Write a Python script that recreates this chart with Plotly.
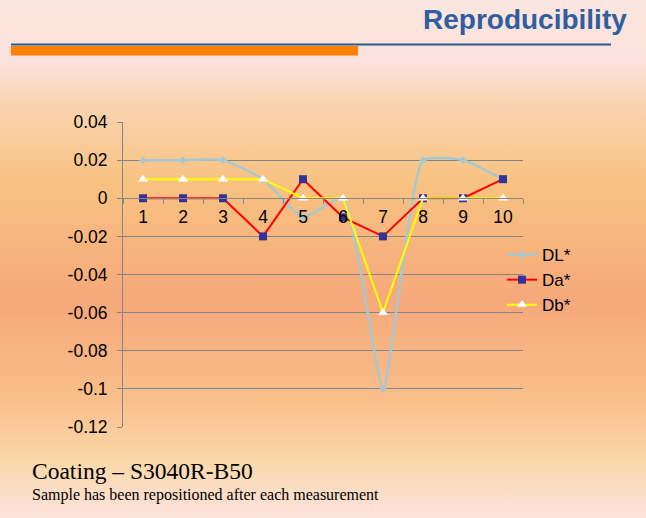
import base64
import plotly.graph_objects as go

# ---- data ----
samples = ["1", "2", "3", "4", "5", "6", "7", "8", "9", "10"]
dl_values = [0.02, 0.02, 0.02, 0.01, -0.01, 0.0, -0.10, 0.02, 0.02, 0.01]
da_values = [0.0, 0.0, 0.0, -0.02, 0.01, -0.01, -0.02, 0.0, 0.0, 0.01]
db_values = [0.01, 0.01, 0.01, 0.01, 0.0, 0.0, -0.06, 0.0, 0.0, 0.0]
y_tick_values = [0.04, 0.02, 0.0, -0.02, -0.04, -0.06, -0.08, -0.10, -0.12]
y_tick_labels = ["0.04", "0.02", "0", "-0.02", "-0.04", "-0.06", "-0.08", "-0.1", "-0.12"]
series_names = ["DL*", "Da*", "Db*"]

W, H = 646, 518
L, R, T, B = 123, 123, 122, 91
PW, PH = W - L - R, H - T - B


def px(x):
    return (x - L) / PW


def py(y):
    return (H - B - y) / PH


ymin, ymax = min(y_tick_values), max(y_tick_values)

# background gradient
stops = [(0.0, "#FDE6DF"), (0.12, "#FCE2DC"), (0.2, "#FAD4B2"), (0.35, "#F8C382"),
         (0.58, "#F6A87A"), (0.77, "#F9BF8A"), (0.9, "#FBD9AE"), (1.0, "#FCE2DD")]
stop_xml = "".join(f'<stop offset="{o}" stop-color="{c}"/>' for o, c in stops)
svg = (f'<svg xmlns="http://www.w3.org/2000/svg" width="{W}" height="{H}" viewBox="0 0 {W} {H}" '
       f'preserveAspectRatio="none"><defs><linearGradient id="g" x1="0" y1="0" x2="0" y2="1">'
       f'{stop_xml}</linearGradient></defs><rect width="{W}" height="{H}" fill="url(#g)"/></svg>')
bg_src = "data:image/svg+xml;base64," + base64.b64encode(svg.encode()).decode()

fig = go.Figure()
fig.add_trace(go.Scatter(
    x=samples, y=dl_values, name=series_names[0], mode="lines+markers",
    line=dict(color="#A6C8D0", width=2.5, shape="spline", smoothing=0.45),
    marker=dict(symbol="diamond", size=6, color="#A6C8D0"), legendgroup="a"))
fig.add_trace(go.Scatter(
    x=samples, y=da_values, name=series_names[1], mode="lines+markers",
    line=dict(color="#FF0000", width=2),
    marker=dict(symbol="square", size=8, color="#333399"), legendgroup="b"))
fig.add_trace(go.Scatter(
    x=samples, y=db_values, name=series_names[2], mode="lines+markers",
    line=dict(color="#FFFF00", width=2),
    marker=dict(symbol="triangle-up", size=9, color="#FFFFFF"), legendgroup="c"))

grid = "#858585"
fig.update_layout(
    width=W, height=H,
    margin=dict(l=L, r=R, t=T, b=B, autoexpand=False),
    paper_bgcolor="#FCE2DC", plot_bgcolor="rgba(0,0,0,0)",
    font=dict(family="Liberation Sans, Arial", size=17, color="#000000"),
    showlegend=True,
    legend=dict(x=px(502), y=py(237), xanchor="left", yanchor="top",
                bgcolor="rgba(0,0,0,0)", traceorder="grouped", tracegroupgap=0,
                font=dict(size=17)),
    xaxis=dict(type="category", range=[-0.5, len(samples) - 0.5],
               anchor="free", position=(0 - ymin) / (ymax - ymin),
               showline=True, linecolor=grid, linewidth=1,
               ticks="outside", tickson="boundaries", ticklen=5, tickcolor=grid,
               showgrid=False, zeroline=False, tickfont=dict(size=17.5),
               ticklabelstandoff=3),
    yaxis=dict(range=[ymin, ymax], tickvals=y_tick_values, ticktext=y_tick_labels,
               showline=True, linecolor=grid, linewidth=1,
               ticks="outside", ticklen=5, tickcolor=grid,
               showgrid=True, gridcolor=grid, gridwidth=1, zeroline=False,
               tickfont=dict(size=17.5), ticklabelstandoff=6),
    images=[dict(source=bg_src, xref="paper", yref="paper", x=px(0), y=py(0),
                 sizex=W / PW, sizey=H / PH, xanchor="left", yanchor="top",
                 sizing="stretch", layer="below")],
    shapes=[
        dict(type="line", xref="paper", yref="paper", x0=px(11), x1=px(611),
             y0=py(44.5), y1=py(44.5), line=dict(color="#2A5A8C", width=2)),
        dict(type="rect", xref="paper", yref="paper", x0=px(11), x1=px(358),
             y0=py(46), y1=py(55.5), fillcolor="#FF8000", line=dict(width=0)),
    ],
    annotations=[
        dict(text="<b>Reproducibility</b>", xref="paper", yref="paper",
             x=px(629), y=py(19), xanchor="right", yanchor="middle", showarrow=False,
             font=dict(family="Liberation Sans, Arial", size=28, color="#2F5F9E")),
        dict(text="Coating – S3040R-B50", xref="paper", yref="paper",
             x=px(30), y=py(471), xanchor="left", yanchor="middle", showarrow=False,
             font=dict(family="Liberation Serif, Times New Roman", size=23.5, color="#000000")),
        dict(text="Sample has been repositioned after each measurement", xref="paper", yref="paper",
             x=px(30), y=py(495), xanchor="left", yanchor="middle", showarrow=False,
             font=dict(family="Liberation Serif, Times New Roman", size=16, color="#000000")),
    ],
)

fig.write_html("out.html", config={"displayModeBar": False},
               post_script="document.body.style.margin='0';")
